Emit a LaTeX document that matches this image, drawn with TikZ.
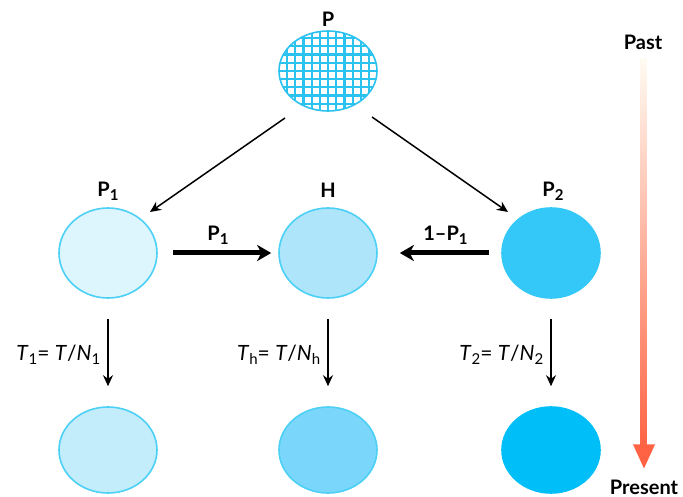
\documentclass[tikz,border=0pt]{standalone}
\usepackage{fontspec}
\setmainfont{Lato}
\usetikzlibrary{shapes.geometric,arrows.meta,calc}
\definecolor{rimblue}{HTML}{4DD0F5}
\definecolor{hatchblue}{HTML}{2BC2F0}
\definecolor{fillPone}{HTML}{DDF5FD}
\definecolor{fillH}{HTML}{AEE5FB}
\definecolor{fillPtwo}{HTML}{33C8F7}
\definecolor{fillBone}{HTML}{C4EDFC}
\definecolor{fillBh}{HTML}{7AD6FA}
\definecolor{fillBtwo}{HTML}{00BFF8}
\definecolor{pastcol}{HTML}{FFFBF2}
\definecolor{presentcol}{HTML}{FF6343}
\newcommand{\lowsub}[1]{\raisebox{-0.35ex}{\fontsize{15}{15}\selectfont #1}}
\tikzset{
  pop/.style={ellipse, minimum width=98pt, minimum height=90pt, inner sep=0pt, line width=1.6pt},
  lbl/.style={font=\fontsize{20}{20}\selectfont\bfseries, inner sep=1pt},
  frm/.style={font=\fontsize{21}{21}\selectfont, inner sep=1pt},
  thinarrow/.style={-{Stealth[length=11pt,width=10pt]}, line width=1.5pt},
  thickarrow/.style={-{Stealth[length=14pt,width=16pt,inset=4pt]}, line width=5pt},
}
\begin{document}
\begin{tikzpicture}[x=1pt,y=-1pt]
\useasboundingbox (0,0) rectangle (683,497);
% nodes
\node[pop, minimum width=98pt, minimum height=80pt, draw=hatchblue] (P) at (328,71) {};
\begin{scope}
  \clip (328,71) ellipse [x radius=49pt, y radius=40pt];
  \foreach \k in {-6,...,6} {
    \draw[hatchblue, line width=2.2pt] (328+\k*8.2,20) -- (328+\k*8.2,120);
    \draw[hatchblue, line width=2.2pt] (270,71+\k*8.2) -- (390,71+\k*8.2);
  }
\end{scope}
\node[pop, draw=rimblue, fill=fillPone] (P1) at (108,253) {};
\node[pop, draw=rimblue, fill=fillH] (H) at (328,253) {};
\node[pop, draw=fillPtwo, fill=fillPtwo] (P2) at (551,253) {};
\node[pop, minimum height=86pt, draw=rimblue, fill=fillBone] (B1) at (108,450) {};
\node[pop, minimum height=86pt, draw=rimblue, fill=fillBh] (BH) at (328,450) {};
\node[pop, minimum height=86pt, draw=fillBtwo, fill=fillBtwo] (B2) at (551,450) {};
% labels
\node[lbl] (lP) at (328,19) {P};
\node[lbl] (lP1) at (108,191) {P\lowsub{1}};
\node[lbl] (lH) at (328,190) {H};
\node[lbl] (lP2) at (553,191) {P\lowsub{2}};
\node[lbl] (past) at (643,42) {Past};
\node[lbl] (present) at (644,487) {Present};
% time arrow
\shade[top color=pastcol, bottom color=presentcol] ([xshift=-2.8pt,yshift=-8pt]past.south) rectangle ([xshift=2.8pt,yshift=28pt]present.north);
\fill[presentcol] ([xshift=-11pt,yshift=34pt]present.north) -- ([xshift=11pt,yshift=34pt]present.north) -- ([yshift=10pt]present.north) -- cycle;
% connectors
\draw[thinarrow] ([xshift=-43pt,yshift=-47pt]P.center) -- ([xshift=42pt,yshift=41pt]P1.center);
\draw[thinarrow] ([xshift=44pt,yshift=-46pt]P.center) -- ([xshift=-43pt,yshift=41pt]P2.center);
\draw[thickarrow, shorten <=15pt, shorten >=7pt] (P1) -- node[lbl, above=5pt] (mP1) {P\lowsub{1}} (H);
\draw[thickarrow, shorten <=12pt, shorten >=22pt] (P2) -- node[lbl, above=5pt, xshift=6pt] (mP2) {1–P\lowsub{1}} (H);
\draw[thinarrow, shorten <=20pt, shorten >=20pt] (P1) -- node[frm, left=6pt, yshift=-2pt] (f1) {\textit{T}\lowsub{1}= \textit{T}/\textit{N}\lowsub{1}} (B1);
\draw[thinarrow, shorten <=20pt, shorten >=20pt] (H) -- node[frm, left=6pt, yshift=-2pt] (fh) {\textit{T}\lowsub{h}= \textit{T}/\textit{N}\lowsub{h}} (BH);
\draw[thinarrow, shorten <=20pt, shorten >=20pt] (P2) -- node[frm, left=6pt, yshift=-2pt] (f2) {\textit{T}\lowsub{2}= \textit{T}/\textit{N}\lowsub{2}} (B2);
\end{tikzpicture}
\end{document}
